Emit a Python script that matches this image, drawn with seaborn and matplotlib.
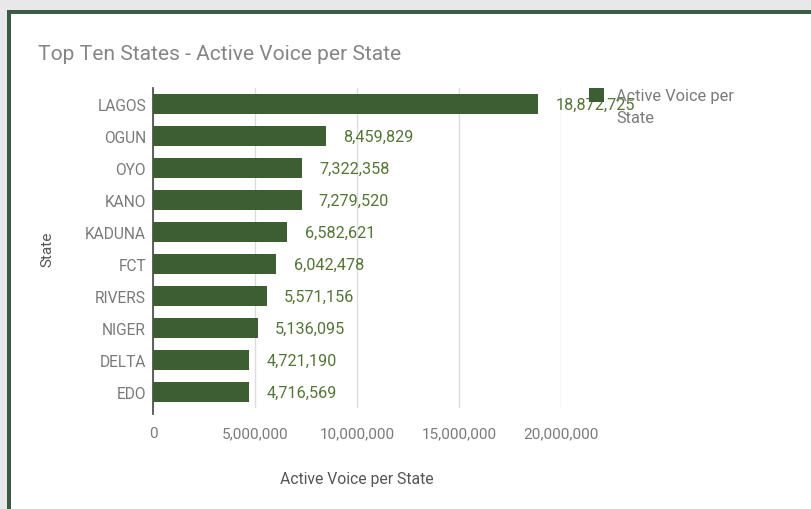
import matplotlib
matplotlib.use("Agg")
import matplotlib.pyplot as plt
import matplotlib.patches as mpatches
import matplotlib.ticker as mticker
import seaborn as sns

# Data
states = ["LAGOS", "OGUN", "OYO", "KANO", "KADUNA", "FCT", "RIVERS", "NIGER", "DELTA", "EDO"]
active_voice = [18872725, 8459829, 7322358, 7279520, 6582621,
                6042478, 5571156, 5136095, 4721190, 4716569]
x_ticks = [0, 5000000, 10000000, 15000000, 20000000]

bar_color = "#3d5e32"
label_color = "#557537"
grey_text = "#7a7a7a"

sns.set_style("white")
plt.rcParams["font.family"] = ["Roboto", "DejaVu Sans"]

fig = plt.figure(figsize=(8.11, 5.10), dpi=100)
fig.patch.set_facecolor("#e8e8ea")

# green frame + white card
fig.patches.append(mpatches.Rectangle((7 / 811, 0), 1, 1 - 11 / 510,
                                      transform=fig.transFigure, facecolor="#3b5b46",
                                      edgecolor="none", zorder=-10))
fig.patches.append(mpatches.Rectangle((11 / 811, 0), 1, 1 - 15 / 510,
                                      transform=fig.transFigure, facecolor="white",
                                      edgecolor="none", zorder=-9))

ax = fig.add_axes([153 / 811, 101 / 510, 408 / 811, 320 / 510])
ax.set_facecolor("none")

sns.barplot(x=active_voice, y=states, color=bar_color, saturation=1,
            width=0.625, orient="h", ax=ax, zorder=3, linewidth=0)

ax.set_xlim(0, 20000000)
ax.set_xticks(x_ticks)
ax.xaxis.set_major_formatter(mticker.FuncFormatter(lambda v, p: f"{int(v):,}"))
ax.grid(axis="x", color="#dcdcdc", linewidth=1, zorder=0)
ax.tick_params(axis="x", length=6, color="#dcdcdc", labelsize=11, labelcolor=grey_text, pad=7)
ax.tick_params(axis="y", length=0, labelsize=11.2, labelcolor=grey_text, pad=5)

for s in ["top", "right", "bottom"]:
    ax.spines[s].set_visible(False)
ax.spines["left"].set_color("#444444")
ax.spines["left"].set_linewidth(1.2)
ax.spines["left"].set_bounds(-0.5, 9.7)

# value labels
for i, v in enumerate(active_voice):
    ax.annotate(f"{v:,}", (v, i), xytext=(12.5, 0), textcoords="offset points",
                va="center", ha="left", fontsize=11.7, color=label_color, zorder=5)

ax.set_xlabel("Active Voice per State", fontsize=11.3, color="#555555", labelpad=22)
ax.set_ylabel("State", fontsize=11, color="#555555", labelpad=22)

fig.text(38 / 811, 1 - 55 / 510, "Top Ten States - Active Voice per State",
         fontsize=15.1, color="#858585", va="center", ha="left")

handle = mpatches.Patch(facecolor=bar_color, edgecolor="none")
blank = mpatches.Patch(facecolor="none", edgecolor="none")
leg = ax.legend([handle, blank], ["Active Voice per", "State"], loc="upper left",
                bbox_to_anchor=(589 / 811, 1 - 89 / 510), bbox_transform=fig.transFigure,
                frameon=False, fontsize=11.8, handlelength=0.9, handleheight=0.9,
                handletextpad=0.75, borderaxespad=0, borderpad=0, labelspacing=0.4)
for t in leg.get_texts():
    t.set_color(grey_text)

fig.savefig("out.png", dpi=100)
